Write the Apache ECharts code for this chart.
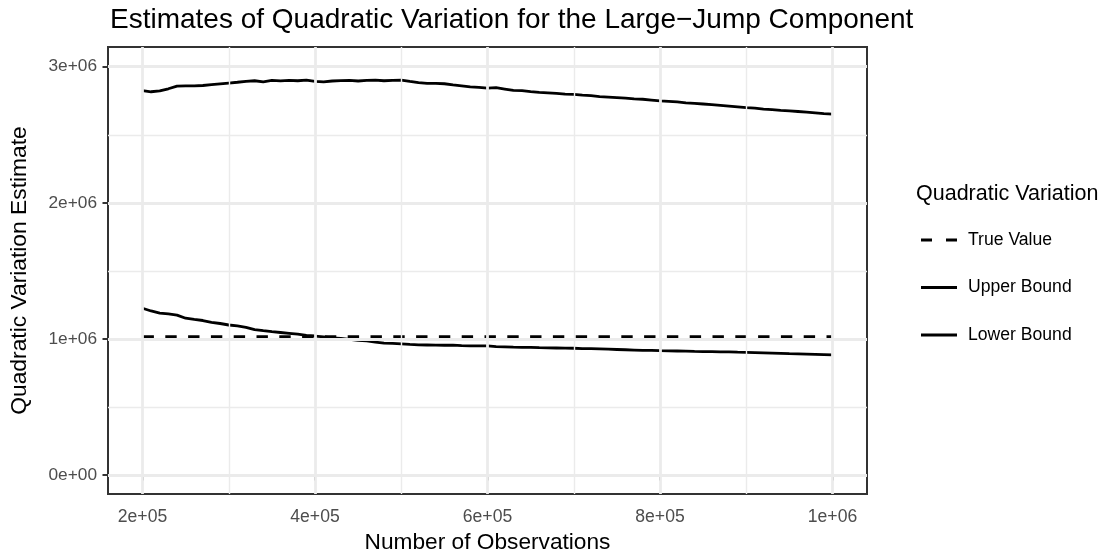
<!DOCTYPE html>
<html>
<head>
<meta charset="utf-8">
<script src="https://cdn.jsdelivr.net/npm/echarts@6/dist/echarts.min.js"></script>
<style>
  html, body { margin: 0; padding: 0; background: #ffffff; }
  #chart { width: 1112px; height: 556px; }
</style>
</head>
<body>
<div id="chart"></div>
<script>
// Number of observations used for each estimate
const observations = [
  200000, 210000, 220000, 230000, 240000, 250000, 260000, 270000, 280000, 290000,
  300000, 310000, 320000, 330000, 340000, 350000, 360000, 370000, 380000, 390000,
  400000, 410000, 420000, 430000, 440000, 450000, 460000, 470000, 480000, 490000,
  500000, 510000, 520000, 530000, 540000, 550000, 560000, 570000, 580000, 590000,
  600000, 610000, 620000, 630000, 640000, 650000, 660000, 670000, 680000, 690000,
  700000, 710000, 720000, 730000, 740000, 750000, 760000, 770000, 780000, 790000,
  800000, 810000, 820000, 830000, 840000, 850000, 860000, 870000, 880000, 890000,
  900000, 910000, 920000, 930000, 940000, 950000, 960000, 970000, 980000, 990000,
  1000000
];

const upperBound = [
  2824000, 2816000, 2822000, 2838000, 2858000, 2860000, 2860000, 2862000, 2868000, 2874000,
  2880000, 2886000, 2893000, 2897000, 2889000, 2899000, 2896000, 2900000, 2897000, 2902000,
  2893000, 2889000, 2895000, 2898000, 2899000, 2895000, 2899000, 2902000, 2897000, 2900000,
  2902000, 2892000, 2883000, 2878000, 2878000, 2875000, 2866000, 2859000, 2852000, 2848000,
  2843000, 2846000, 2836000, 2826000, 2824000, 2817000, 2811000, 2808000, 2804000, 2799000,
  2797000, 2791000, 2787000, 2780000, 2777000, 2773000, 2769000, 2764000, 2761000, 2755000,
  2749000, 2746000, 2741000, 2735000, 2731000, 2726000, 2721000, 2716000, 2711000, 2705000,
  2699000, 2696000, 2689000, 2685000, 2680000, 2676000, 2671000, 2666000, 2661000, 2656000,
  2652000
];

const lowerBound = [
  1225000, 1205000, 1190000, 1183000, 1175000, 1152000, 1143000, 1135000, 1122000, 1113000,
  1102000, 1095000, 1085000, 1068000, 1060000, 1053000, 1047000, 1041000, 1035000, 1025000,
  1021000, 1015000, 1008000, 1003000, 996000, 990000, 985000, 976000, 969000, 967000,
  963000, 959000, 956000, 955000, 954000, 953000, 954000, 951000, 949000, 948000,
  948000, 943000, 941000, 939000, 938000, 937000, 935000, 934000, 933000, 932000,
  931000, 929000, 928000, 926000, 924000, 922000, 920000, 918000, 916000, 915000,
  913000, 912000, 911000, 910000, 908000, 907000, 906000, 905000, 904000, 902000,
  901000, 899000, 897000, 895000, 893000, 891000, 890000, 888000, 886000, 884000,
  882000
];

// The true quadratic variation of the large-jump component
const trueValue = 1016000;

// Axis breaks and their labels
const xTickValues = [200000, 400000, 600000, 800000, 1000000];
const xTickLabels = ['2e+05', '4e+05', '6e+05', '8e+05', '1e+06'];
const xMinorBreaks = [300000, 500000, 700000, 900000];
const yTickValues = [0, 1000000, 2000000, 3000000];
const yTickLabels = ['0e+00', '1e+06', '2e+06', '3e+06'];
const yMinorBreaks = [500000, 1500000, 2500000];

const seriesNames = ['True Value', 'Upper Bound', 'Lower Bound'];

const FONT = '"Liberation Sans", Arial, Helvetica, sans-serif';
const INK = '#000000';
const TICK_TEXT = '#4D4D4D';
const FRAME = '#333333';
const GRID = '#EBEBEB';

// Legend keys: a dashed and a solid line segment
const DASHED_KEY = 'path://M0,0H11V3H0Z M25,0H36V3H25Z';
const SOLID_KEY = 'path://M0,0H36V3H0Z';

const pair = (xs, ys) => xs.map((x, i) => [x, ys[i]]);
const labelFor = (values, labels) => v => {
  const i = values.indexOf(v);
  return i >= 0 ? labels[i] : '';
};

// Panel grid lines, drawn through the axes as mark lines
const gridLines = [];
xMinorBreaks.forEach(v => gridLines.push({ xAxis: v, lineStyle: { width: 1.4 } }));
yMinorBreaks.forEach(v => gridLines.push({ yAxis: v, lineStyle: { width: 1.4 } }));
xTickValues.forEach(v => gridLines.push({ xAxis: v, lineStyle: { width: 2.8 } }));
yTickValues.forEach(v => gridLines.push({ yAxis: v, lineStyle: { width: 2.8 } }));

const chart = echarts.init(document.getElementById('chart'), null, { renderer: 'canvas' });

chart.setOption({
  animation: false,
  backgroundColor: '#ffffff',
  textStyle: { fontFamily: FONT },
  title: [
    {
      text: 'Estimates of Quadratic Variation for the Large\u2212Jump Component',
      left: 110,
      top: 6,
      padding: 0,
      textStyle: { fontFamily: FONT, fontSize: 28, fontWeight: 'normal', color: INK }
    },
    {
      text: 'Quadratic Variation',
      left: 916,
      top: 183,
      padding: 0,
      textStyle: { fontFamily: FONT, fontSize: 21.5, fontWeight: 'normal', color: INK }
    }
  ],
  legend: {
    data: [
      { name: seriesNames[0], icon: DASHED_KEY },
      { name: seriesNames[1], icon: SOLID_KEY },
      { name: seriesNames[2], icon: SOLID_KEY }
    ],
    orient: 'vertical',
    left: 921,
    top: 231,
    padding: 0,
    itemWidth: 36,
    itemHeight: 3,
    itemGap: 29.5,
    selectedMode: false,
    itemStyle: { color: INK, borderWidth: 0 },
    textStyle: { fontFamily: FONT, fontSize: 17.6, color: INK, padding: [0, 0, 0, 6] }
  },
  grid: {
    left: 108,
    right: 245,
    top: 47,
    bottom: 62,
    containLabel: false,
    outerBoundsMode: 'none',
    show: true,
    borderColor: FRAME,
    borderWidth: 2,
    backgroundColor: 'transparent'
  },
  xAxis: {
    type: 'value',
    min: 160000,
    max: 1040000,
    name: 'Number of Observations',
    nameLocation: 'middle',
    nameGap: 32,
    nameTextStyle: { fontFamily: FONT, fontSize: 22.7, color: INK },
    axisLine: { show: false },
    axisTick: {
      show: true,
      customValues: xTickValues,
      length: 5.5,
      lineStyle: { color: FRAME, width: 2 }
    },
    axisLabel: {
      customValues: xTickValues,
      formatter: labelFor(xTickValues, xTickLabels),
      margin: 14,
      fontFamily: FONT,
      fontSize: 17.6,
      color: TICK_TEXT
    },
    splitLine: { show: false }
  },
  yAxis: {
    type: 'value',
    min: -140000,
    max: 3145000,
    name: 'Quadratic Variation Estimate',
    nameLocation: 'middle',
    nameGap: 77,
    nameTextStyle: { fontFamily: FONT, fontSize: 22.8, color: INK },
    axisLine: { show: false },
    axisTick: {
      show: true,
      customValues: yTickValues,
      length: 5.5,
      lineStyle: { color: FRAME, width: 2 }
    },
    axisLabel: {
      customValues: yTickValues,
      formatter: labelFor(yTickValues, yTickLabels),
      margin: 11,
      fontFamily: FONT,
      fontSize: 17.3,
      color: TICK_TEXT
    },
    splitLine: { show: false }
  },
  series: [
    {
      name: 'panel-grid',
      type: 'line',
      data: [],
      silent: true,
      z: 1,
      markLine: {
        silent: true,
        symbol: ['none', 'none'],
        label: { show: false },
        lineStyle: { color: GRID, type: 'solid' },
        emphasis: { disabled: true },
        data: gridLines
      }
    },
    {
      name: seriesNames[0],
      type: 'line',
      data: pair([observations[0], observations[observations.length - 1]], [trueValue, trueValue]),
      showSymbol: false,
      symbol: 'none',
      z: 3,
      lineStyle: { color: INK, width: 2.8, type: [11.4, 11.4] },
      itemStyle: { color: INK }
    },
    {
      name: seriesNames[1],
      type: 'line',
      data: pair(observations, upperBound),
      showSymbol: false,
      symbol: 'none',
      z: 3,
      lineStyle: { color: INK, width: 2.8 },
      itemStyle: { color: INK }
    },
    {
      name: seriesNames[2],
      type: 'line',
      data: pair(observations, lowerBound),
      showSymbol: false,
      symbol: 'none',
      z: 3,
      lineStyle: { color: INK, width: 2.8 },
      itemStyle: { color: INK }
    }
  ]
});
</script>
</body>
</html>
